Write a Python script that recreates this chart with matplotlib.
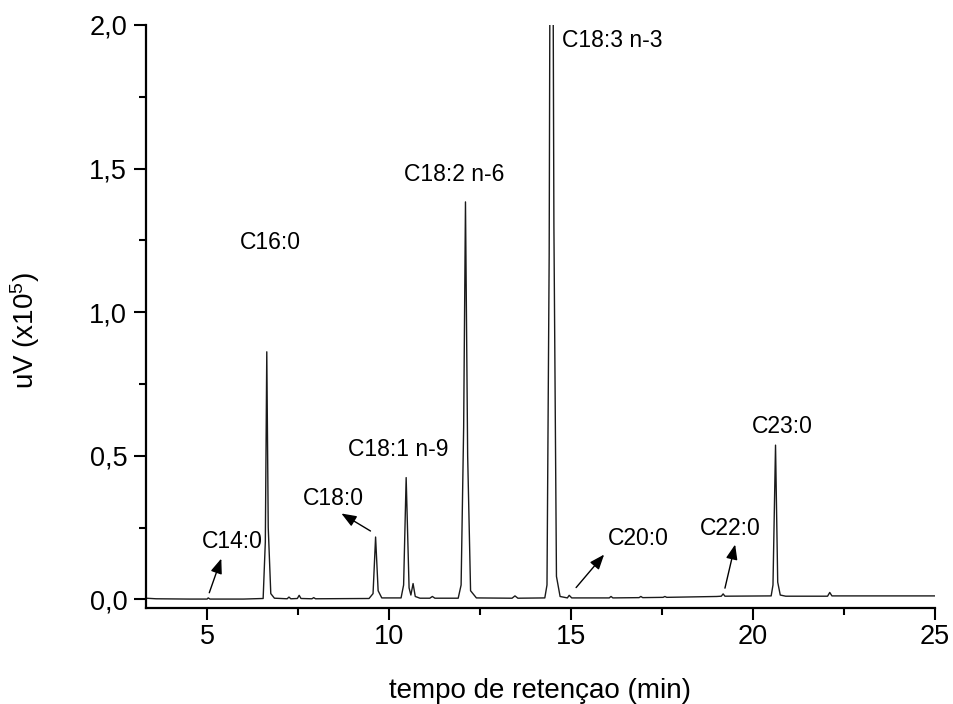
import numpy as np
import matplotlib
matplotlib.use("Agg")
import matplotlib.pyplot as plt
from matplotlib.ticker import MultipleLocator, FuncFormatter

plt.rcParams['font.family'] = ['Liberation Sans', 'DejaVu Sans']
plt.rcParams['mathtext.default'] = 'regular'

# chromatogram trace, vertices (min, uV x1e5)
rt = [3.32, 3.6, 4.5, 5.0, 5.03, 5.08, 6.0, 6.54, 6.60, 6.64, 6.68, 6.75, 6.85,
      7.20, 7.25, 7.30, 7.48, 7.53, 7.58, 7.88, 7.93, 7.98,
      9.45, 9.56, 9.63, 9.70, 9.80,
      10.33, 10.40, 10.47, 10.55, 10.60, 10.66, 10.72, 10.85,
      11.12, 11.19, 11.26,
      11.90, 11.98, 12.05, 12.10, 12.16, 12.24, 12.40,
      13.38, 13.46, 13.54,
      14.28, 14.34, 14.40, 14.46, 14.53, 14.60, 14.70,
      14.90, 14.95, 15.02, 16.05, 16.10, 16.15, 16.87, 16.92, 16.97,
      17.53, 17.58, 17.63, 19.00, 19.13, 19.18, 19.23,
      20.50, 20.55, 20.62, 20.68, 20.75, 20.90,
      22.05, 22.11, 22.17, 25.0]
signal = [0.004, 0.002, 0.001, 0.001, 0.005, 0.001, 0.001, 0.003, 0.20, 0.862, 0.25, 0.02, 0.004,
          0.002, 0.008, 0.002, 0.003, 0.014, 0.003, 0.002, 0.006, 0.002,
          0.003, 0.02, 0.217, 0.03, 0.005,
          0.005, 0.05, 0.424, 0.04, 0.015, 0.055, 0.01, 0.004,
          0.004, 0.010, 0.004,
          0.004, 0.05, 0.6, 1.384, 0.5, 0.03, 0.005,
          0.004, 0.012, 0.004,
          0.005, 0.05, 1.2, 4.0, 1.3, 0.08, 0.01,
          0.005, 0.014, 0.005, 0.005, 0.010, 0.005, 0.006, 0.010, 0.006,
          0.007, 0.010, 0.007, 0.010, 0.011, 0.019, 0.011,
          0.012, 0.05, 0.537, 0.06, 0.015, 0.011,
          0.011, 0.024, 0.012, 0.012]

# peak labels
peak_names = ["C14:0", "C16:0", "C18:0", "C18:1 n-9", "C18:2 n-6",
              "C18:3 n-3", "C20:0", "C22:0", "C23:0"]
label_x = [5.70, 6.73, 8.48, 10.25, 11.78, 16.14, 16.85, 19.37, 20.81]
label_y = [0.202, 1.242, 0.351, 0.522, 1.479, 1.947, 0.212, 0.246, 0.603]

# arrows: (tail, head)
arrow_tail = [(5.06, 0.023), (9.49, 0.238), (15.14, 0.041), (19.23, 0.039)]
arrow_head = [(5.39, 0.142), (8.69, 0.299), (15.91, 0.156), (19.51, 0.191)]

fig = plt.figure(figsize=(9.54, 7.04), dpi=100)
ax = fig.add_axes([0.153, 0.136, 0.827, 0.8285])

ax.plot(rt, signal, color='#1a1a1a', lw=1.0)

for name, x, y in zip(peak_names, label_x, label_y):
    ax.text(x, y, name, ha='center', va='center', fontsize=16.5)

for tail, head in zip(arrow_tail, arrow_head):
    ax.annotate('', xy=head, xytext=tail,
                arrowprops=dict(arrowstyle='-|>,head_length=0.9,head_width=0.35',
                                color='black', lw=1.0, shrinkA=0, shrinkB=0))

ax.set_xlim(3.32, 25)
ax.set_ylim(-0.031, 2.0)
ax.xaxis.set_major_locator(MultipleLocator(5))
ax.xaxis.set_minor_locator(MultipleLocator(2.5))
ax.yaxis.set_major_locator(MultipleLocator(0.5))
ax.yaxis.set_minor_locator(MultipleLocator(0.25))
ax.yaxis.set_major_formatter(FuncFormatter(lambda v, p: f"{v:.1f}".replace('.', ',')))

for s in ['top', 'right']:
    ax.spines[s].set_visible(False)
for s in ['left', 'bottom']:
    ax.spines[s].set_linewidth(1.6)

ax.tick_params(which='major', direction='out', length=8.5, width=1.5, labelsize=19.5)
ax.tick_params(which='minor', direction='out', length=5, width=1.5)
ax.tick_params(axis='x', which='major', pad=3)
ax.tick_params(axis='y', which='major', pad=5)

ax.set_xlabel('tempo de retençao (min)', fontsize=20, labelpad=20)
ax.set_ylabel('uV (x10$^5$)', fontsize=20)
ax.yaxis.set_label_coords(-0.132, 0.477)

fig.savefig('out.png', dpi=100)
